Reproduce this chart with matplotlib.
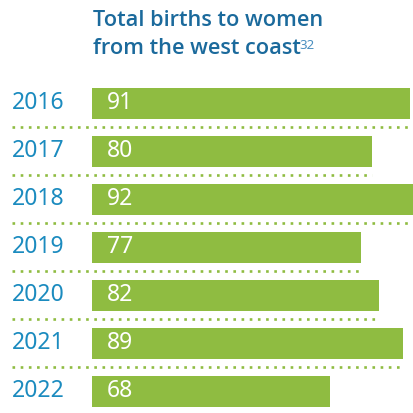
import matplotlib
matplotlib.use("Agg")
import matplotlib.pyplot as plt
import matplotlib.transforms as mtransforms

# Chart data
years = ["2016", "2017", "2018", "2019", "2020", "2021", "2022"]
births = [91, 80, 92, 77, 82, 89, 68]

TITLE_LINES = ["Total births to women", "from the west coast"]
FOOTNOTE = "32"

GREEN = "#8fbc41"
YEAR_BLUE = "#1b8bbf"
TITLE_BLUE = "#1b6a9c"

W, H = 414, 413
plt.rcParams["font.family"] = ["Noto Sans", "DejaVu Sans"]

fig = plt.figure(figsize=(W / 100, H / 100), dpi=100)

# axes spans bar area: x from px 92 to 414, y rows pitch 48 px
pitch = 48.0
first_center = 103.0
top_px = first_center - 0.5 * pitch
bottom_idx = (H - first_center) / pitch
ax = fig.add_axes([92 / W, 0, 1 - 92 / W, 1 - top_px / H])
ax.set_xlim(0, max(births))
ax.set_ylim(bottom_idx, -0.5)
ax.axis("off")

pos = list(range(len(years)))
ax.barh(pos, births, height=31 / pitch, color=GREEN, left=0)

ax_w_px = W - 92
x_per_px = max(births) / ax_w_px
trans = mtransforms.blended_transform_factory(ax.transAxes, ax.transData)

for i, (yr, v) in enumerate(zip(years, births)):
    ax.text(-80 / ax_w_px, i, yr, transform=trans, ha="left", va="center",
            fontsize=16.5, color=YEAR_BLUE)
    ax.text(15 * x_per_px, i, str(v), ha="left", va="center",
            fontsize=16.5, color="white")
    # dotted separator under each row except the last
    if i < len(years) - 1:
        ax.plot([-80 * x_per_px, v], [i + 0.5, i + 0.5], color=GREEN,
                linewidth=1.9, linestyle=(0, (1.0, 2.1)), clip_on=False,
                solid_capstyle="butt", dash_capstyle="butt")

# Title
title_font = dict(family=["Open Sans", "DejaVu Sans"], fontsize=15.7,
                  fontweight=600, color=TITLE_BLUE)
fig.text(93 / W, 1 - 26 / H, TITLE_LINES[0], ha="left", va="baseline",
         **title_font)
t2 = fig.text(93 / W, 1 - 54 / H, TITLE_LINES[1], ha="left", va="baseline",
              **title_font)
fig.canvas.draw()
bb = t2.get_window_extent()
fig.text(bb.x1 / W - 1 / W, 1 - 49 / H, FOOTNOTE, ha="left", va="baseline",
         fontsize=9.5, color="#4a8fc0")

fig.savefig("out.png", dpi=100, facecolor="white")
